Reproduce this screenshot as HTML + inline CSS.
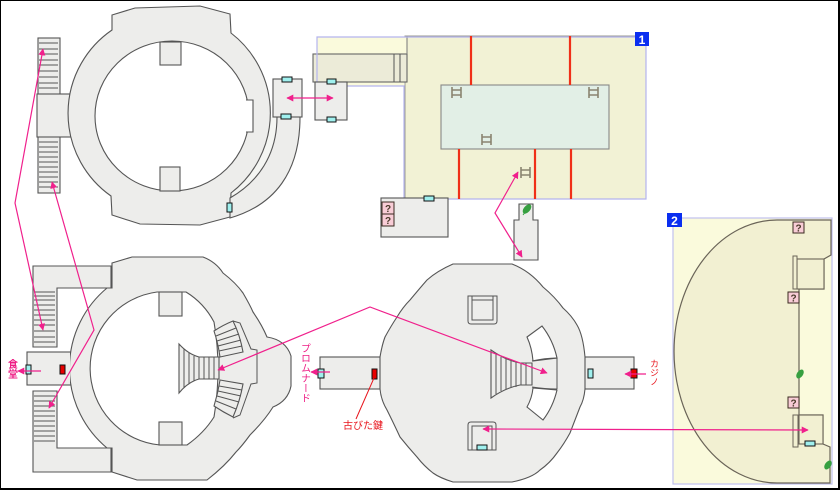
<!DOCTYPE html>
<html><head><meta charset="utf-8">
<style>
html,body{margin:0;padding:0;background:#fff;}
svg{display:block}
.g{fill:#ededeb;stroke:#555;stroke-width:1.1}
.w{fill:#fff;stroke:#555;stroke-width:1.1}
.ln{stroke:#555;stroke-width:1;fill:none}
.pk{stroke:#f0208c;stroke-width:1.2;fill:none}
.cy{fill:#a0f0ee;stroke:#111;stroke-width:1}
.rd{fill:#e80000;stroke:#111;stroke-width:1}
.rl{stroke:#f03018;stroke-width:2.2}
.lad{stroke:#8a8470;stroke-width:1.6;fill:none}
.q{fill:#f8ccd6;stroke:#3a2a20;stroke-width:1}
.qt{font-family:"Liberation Sans",sans-serif;font-weight:bold;font-size:10px;fill:#4a3a2a}
</style></head><body>
<svg width="840" height="490" viewBox="0 0 840 490" xmlns="http://www.w3.org/2000/svg">
<defs>
<marker id="ah" viewBox="0 0 10 10" refX="9" refY="5" markerWidth="7" markerHeight="7" markerUnits="userSpaceOnUse" orient="auto-start-reverse">
<path d="M0,0 L10,5 L0,10 Z" fill="#f0208c"/>
</marker>
</defs>
<rect x="0" y="0" width="840" height="490" fill="#fff"/>

<!-- ===== TOP LEFT ===== -->
<rect class="g" x="38" y="38" width="22" height="155"/>
<g class="ln">
<path d="M39,43H58M39,49H58M39,54H58M39,60H58M39,65H58M39,71H58M39,77H58M39,83H58M39,88H58"/>
<path d="M39,142H58M39,147H58M39,152H58M39,157H58M39,162H58M39,167H58M39,172H58M39,177H58M39,182H58M39,187H58"/>
</g>
<rect class="g" x="37" y="94" width="34" height="43"/>
<path d="M268,117 L277,117 C277,155 258,182 230,198 L232,190 C252,170 266,145 268,117 Z" fill="#f4f5f2"/>
<path class="g" d="M112,30 L112,15 L135,8 L200,6 L230,14 L231,33 A101,101 0 0 1 231,193 L230,217 L200,225 L140,224 L112,215 L111,196 A101,101 0 0 1 112,30 Z"/>
<ellipse class="w" cx="172" cy="116" rx="77" ry="75"/>
<path d="M246,100 L253,100 L253,132 L246,132" class="w"/>
<rect x="244" y="101" width="8" height="30" fill="#fff"/>
<rect class="g" x="160" y="42" width="21" height="23"/>
<rect class="g" x="160" y="167" width="20" height="24"/>
<path class="g" d="M277,117 L300,117 C300,172 275,205 230,218 L230,198 C258,182 277,155 277,117 Z"/>
<rect class="g" x="273" y="79" width="29" height="38"/>
<rect class="cy" x="282" y="77" width="10" height="5"/>
<rect class="cy" x="281" y="114" width="10" height="5"/>
<rect class="cy" x="227" y="203" width="5" height="9"/>

<!-- ===== TOP MIDDLE ===== -->
<rect x="405" y="36" width="241" height="163" fill="#f2f2d5" stroke="#9a9a90" stroke-width="1"/>
<rect x="317" y="37" width="90" height="17" fill="#fafadc"/>
<rect x="347" y="82" width="57" height="4" fill="#fafadc"/>
<rect x="313" y="54" width="94" height="28" fill="#ecebd8" stroke="#666" stroke-width="1.1"/>
<path class="ln" d="M394,54V82M400,54V82"/>
<path d="M407,36V54" stroke="#777" stroke-width="1"/>
<path d="M317,37 H646 V199 H404 V86 H317 Z" fill="none" stroke="#b4b4ee" stroke-width="1.2"/>
<rect class="g" x="315" y="82" width="32" height="38"/>
<rect class="cy" x="327" y="79" width="9" height="5"/>
<rect class="cy" x="327" y="117" width="9" height="5"/>
<rect x="441" y="85" width="168" height="64" fill="#e2efe6" stroke="#888" stroke-width="1.1"/>
<g class="rl">
<path d="M471,36V85M570,36V85M459,149V199M535,149V199M571,149V199"/>
</g>
<g class="lad">
<path d="M452,87V98M461,87V98M452,90H461M452,95H461"/>
<path d="M589,87V98M598,87V98M589,90H598M589,95H598"/>
<path d="M482,134V145M491,134V145M482,137H491M482,142H491"/>
<path d="M521,167V178M530,167V178M521,170H530M521,175H530"/>
</g>
<rect x="635" y="32" width="14" height="14" fill="#0a2ef0"/>
<text x="642" y="44" text-anchor="middle" font-family="Liberation Sans,sans-serif" font-weight="bold" font-size="12" fill="#fff">1</text>
<rect class="g" x="381" y="198" width="67" height="39"/>
<rect class="cy" x="424" y="196" width="10" height="5"/>
<rect class="q" x="382" y="202" width="12" height="12"/>
<text class="qt" x="388" y="212" text-anchor="middle">?</text>
<rect class="q" x="382" y="214" width="12" height="12"/>
<text class="qt" x="388" y="224" text-anchor="middle">?</text>
<path class="g" d="M519,204 H533 V220 H538 V260 H514 V220 H519 Z"/>
<ellipse cx="527" cy="209" rx="5.5" ry="3.2" transform="rotate(-50 527 209)" fill="#36a040"/>
<path d="M523,215 L526,211" stroke="#36a040" stroke-width="1"/>

<!-- ===== BOTTOM LEFT ===== -->
<path class="g" d="M33,266 H111 V288 H57 V347 H33 Z"/>
<path class="g" d="M33,391 H57 V448 H111 V472 H33 Z"/>
<g class="ln">
<path d="M34,292H55M34,296H55M34,300H55M34,305H55M34,310H55M34,315H55M34,320H55M34,325H55M34,331H55M34,337H55M34,342H55"/>
<path d="M34,396H55M34,401H55M34,406H55M34,411H55M34,416H55M34,421H55M34,426H55M34,431H55M34,436H55M34,441H55"/>
</g>
<rect class="g" x="27" y="352" width="44" height="33"/>
<path class="g" d="M112,263 L132,257 L203,257 Q216,262 223,273 Q236,283 243,293 Q250,305 253,312 Q262,325 267,337 Q286,340 291,356 L291,386 Q288,401 273,407 Q265,420 250,435 Q242,446 236,452 Q225,466 207,480 L137,480 L112,472 L112,448 L107,448 A104,104 0 0 1 107,288 L112,288 Z"/>
<path d="M108,289 L112,289 L112,447 L108,447 Z" fill="#ededeb"/>
<path d="M66,353 L70,353 L70,384 L66,384 Z" fill="#ededeb"/>
<path class="ln" d="M111,266V288M111,448V472"/>
<path class="w" d="M157,292 L186,292 Q204,303 214,322 Q222,368 214,417 Q204,433 187,445 L160,445 A77,77 0 0 1 157,292 Z"/>
<rect class="g" x="159" y="292" width="23" height="24"/>
<rect class="g" x="159" y="422" width="23" height="23"/>
<path class="ln" d="M233,321 L240,323 L251,349 L257,350 L257,383 L251,384 L240,415 L233,418"/>
<path class="g" d="M214,331 Q223,325 233,321 Q240,335 243,352 L220,357 Q218,343 214,331 Z"/>
<path class="g" d="M220,380 L243,384 Q240,401 233,417 Q223,412 214,406 Q218,393 220,380 Z"/>
<g class="ln">
<path d="M216,336L236,328M217,341L239,334M218,346L241,340M219,351L242,346"/>
<path d="M219,386L242,390M218,391L241,396M217,396L239,402M216,401L236,409"/>
</g>
<path class="g" d="M179,344 Q188,354 199,357 L219,357 L219,379 L199,379 Q188,382 179,393 Z"/>
<g class="ln"><path d="M184,349V388M189,353V384M194,356V381M199,357V379M204,357V379M209,357V379M214,357V379"/></g>
<rect class="cy" x="26" y="365" width="5" height="9"/>
<rect class="rd" x="60" y="365" width="5" height="9"/>
<text x="11" y="359" style="writing-mode:vertical-rl" font-family="Liberation Sans,'Noto Sans CJK JP',sans-serif" font-weight="bold" font-size="10" fill="#ee1c84">食堂</text>
<text x="304" y="343" style="writing-mode:vertical-rl" font-family="Liberation Sans,'Noto Sans CJK JP',sans-serif" font-size="10" fill="#ee1c84">プロムナード</text>

<!-- ===== BOTTOM MIDDLE ===== -->
<rect class="g" x="320" y="357" width="62" height="32"/>
<rect class="g" x="583" y="357" width="51" height="32"/>
<path class="g" d="M453,264 L512,264 Q530,271 543,287 Q555,297 563,308 Q572,316 577,325 Q583,335 585,357 L585,389 Q584,400 580,407 Q575,420 570,433 Q564,444 557,453 Q550,463 540,470 Q532,478 512,482 L453,482 Q440,478 433,473 Q424,466 417,457 Q408,447 400,437 Q393,422 387,410 Q381,400 380,389 L380,357 Q382,345 385,337 Q391,326 397,317 Q403,307 410,300 Q420,288 427,280 Q437,271 453,264 Z"/>
<path class="ln" d="M468,296 V321 Q468,324 471,324 H494 Q497,324 497,321 V296 Z"/>
<path class="ln" d="M472,296 V320 H493 V296 M472,300 H493"/>
<path class="ln" d="M468,450 V425 Q468,422 471,422 H493 Q496,422 496,425 V450 Z"/>
<path class="ln" d="M472,450 V426 H492 V450"/>
<rect class="cy" x="477" y="445" width="10" height="5"/>
<path class="w" d="M527,337 L542,326 Q553,340 557,358 L533,361 Q532,348 527,337 Z"/>
<path class="w" d="M533,388 L557,390 Q553,407 543,420 L527,407 Q532,398 533,388 Z"/>
<path class="ln" d="M532,361 Q545,358 557,358 M532,387 Q545,389 557,389 M557,358 V389"/>
<path class="g" d="M491,350 Q505,360 520,363 L532,363 L532,385 L520,385 Q505,388 491,398 Z"/>
<g class="ln"><path d="M496,354V394M501,357V391M506,359V389M511,361V388M516,362V387M521,363V385M526,363V385"/></g>
<rect class="cy" x="318" y="369" width="6" height="9"/>
<rect class="rd" x="372" y="369" width="5" height="10"/>
<rect class="cy" x="588" y="369" width="5" height="9"/>
<rect class="rd" x="631" y="369" width="6" height="9"/>
<text x="343" y="429" font-family="Liberation Sans,'Noto Sans CJK JP',sans-serif" font-size="10" fill="#e8141c">古びた鍵</text>
<path d="M356,419 L374,378" stroke="#e8141c" stroke-width="1"/>
<text x="654" y="359" style="writing-mode:vertical-rl" font-family="Liberation Sans,'Noto Sans CJK JP',sans-serif" font-size="9" fill="#e8141c">カジノ</text>

<!-- ===== BOTTOM RIGHT PANEL ===== -->
<rect x="673" y="218" width="159" height="266" fill="#fafadc" stroke="#c0c0ee" stroke-width="1.2"/>
<path d="M777,220 L831,220 L831,255 L824,259 L824,289 L799,289 L799,415 L823,415 L823,444 L830,447 L830,483 L777,483 A103,131.5 0 0 1 777,220 Z" fill="#f2f0d2" stroke="#6a6458" stroke-width="1.2"/>
<rect x="797" y="259" width="27" height="30" fill="#f2f0d2" stroke="#6a6458" stroke-width="1.1"/>
<rect x="793" y="256" width="4" height="33" fill="#f2f0d2" stroke="#6a6458" stroke-width="1"/>
<rect x="799" y="415" width="24" height="29" fill="#f2f0d2" stroke="#6a6458" stroke-width="1.1"/>
<rect x="793" y="415" width="5" height="32" fill="#f2f0d2" stroke="#6a6458" stroke-width="1"/>
<rect class="q" x="793" y="222" width="11" height="11"/>
<text class="qt" x="798.5" y="231.5" text-anchor="middle">?</text>
<rect class="q" x="788" y="292" width="11" height="11"/>
<text class="qt" x="793.5" y="301.5" text-anchor="middle">?</text>
<rect class="q" x="788" y="397" width="11" height="11"/>
<text class="qt" x="793.5" y="406.5" text-anchor="middle">?</text>
<ellipse cx="800" cy="374" rx="5" ry="3" transform="rotate(-55 800 374)" fill="#36a040"/>
<ellipse cx="828" cy="465" rx="5" ry="3" transform="rotate(-55 828 465)" fill="#36a040"/>
<rect class="cy" x="805" y="441" width="10" height="5"/>
<rect x="667" y="213" width="15" height="14" fill="#0a2ef0"/>
<text x="674.5" y="225" text-anchor="middle" font-family="Liberation Sans,sans-serif" font-weight="bold" font-size="12" fill="#fff">2</text>

<!-- ===== PINK CONNECTORS ===== -->
<polyline class="pk" points="43,49 15,203 43,330" marker-start="url(#ah)" marker-end="url(#ah)"/>
<polyline class="pk" points="52,182 94,330 49,408" marker-start="url(#ah)" marker-end="url(#ah)"/>
<line class="pk" x1="287" y1="98" x2="333" y2="98" marker-start="url(#ah)" marker-end="url(#ah)" stroke-width="1.6"/>
<polyline class="pk" points="518,172 495,213 522,257" marker-start="url(#ah)" marker-end="url(#ah)"/>
<polyline class="pk" points="218,370 370,307 547,373" marker-start="url(#ah)" marker-end="url(#ah)"/>
<line class="pk" x1="483" y1="429" x2="808" y2="430" marker-start="url(#ah)" marker-end="url(#ah)"/>
<line class="pk" x1="41" y1="371" x2="18" y2="371" marker-end="url(#ah)"/>
<line class="pk" x1="330" y1="372" x2="311" y2="372" marker-end="url(#ah)"/>
<line class="pk" x1="646" y1="374" x2="625" y2="374" marker-end="url(#ah)"/>

<!-- frame -->
<rect x="0" y="0" width="840" height="1" fill="#000"/>
<rect x="0" y="0" width="1" height="490" fill="#000"/>
<rect x="838" y="0" width="2" height="490" fill="#000"/>
<rect x="0" y="488" width="840" height="2" fill="#000"/>
</svg>
</body></html>
